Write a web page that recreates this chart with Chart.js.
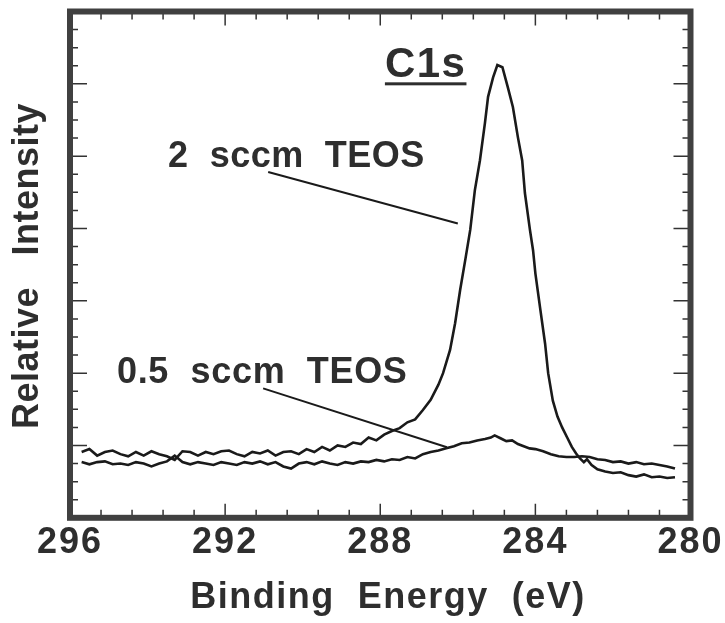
<!DOCTYPE html>
<html>
<head>
<meta charset="utf-8">
<title>C1s XPS</title>
<script src="https://cdn.jsdelivr.net/npm/chart.js@4.4.1/dist/chart.umd.min.js"></script>
<style>
  html, body { margin: 0; padding: 0; background: #fff; }
  #wrap { width: 725px; height: 623px; position: relative; }
</style>
</head>
<body>
<div id="wrap"><canvas id="xps"></canvas></div>
<script>
// C1s spectra, binding energy (eV) vs relative intensity (arb. units)
const energy2 = [295.7, 295.5, 295.3, 295.1, 294.9, 294.7, 294.5, 294.3, 294.1, 293.9,
  293.7, 293.5, 293.3, 293.1, 292.9, 292.7, 292.5, 292.3, 292.1, 291.9,
  291.7, 291.5, 291.3, 291.1, 290.9, 290.7, 290.5, 290.3, 290.1, 289.9,
  289.7, 289.5, 289.3, 289.1, 288.9, 288.7, 288.5, 288.3, 288.1, 287.9,
  287.7, 287.5, 287.3, 287.1, 286.9, 286.7, 286.5, 286.38, 286.2, 286.07,
  285.94, 285.8, 285.68, 285.56, 285.43, 285.3, 285.22, 285.09, 284.98, 284.85,
  284.71, 284.58, 284.45, 284.34, 284.27, 284.14, 284.06, 284.0, 283.88, 283.75,
  283.67, 283.55, 283.43, 283.31, 283.18, 283.06, 282.95, 282.85, 282.75, 282.67,
  282.55, 282.4, 282.2, 282.0, 281.8, 281.6, 281.4, 281.2, 281.0, 280.8,
  280.6, 280.4];
const intensity2 = [0.91, 0.95, 0.86, 0.91, 0.93, 0.88, 0.85, 0.91, 0.86, 0.92,
  0.88, 0.85, 0.80, 0.92, 0.91, 0.86, 0.91, 0.88, 0.92, 0.93,
  0.88, 0.85, 0.91, 0.89, 0.93, 0.86, 0.91, 0.92, 0.88, 0.95,
  0.91, 0.98, 0.93, 1.00, 0.98, 1.04, 1.02, 1.11, 1.07, 1.15,
  1.20, 1.24, 1.32, 1.36, 1.49, 1.63, 1.84, 2.00, 2.32, 2.69,
  3.15, 3.59, 3.98, 4.53, 4.94, 5.46, 5.82, 6.09, 6.26, 6.23,
  5.95, 5.68, 5.26, 4.94, 4.49, 3.98, 3.70, 3.38, 2.91, 2.41,
  2.00, 1.62, 1.40, 1.25, 1.11, 0.98, 0.89, 0.82, 0.77, 0.81,
  0.73, 0.67, 0.64, 0.62, 0.63, 0.59, 0.57, 0.60, 0.56, 0.57,
  0.55, 0.56];

const energy05 = [295.7, 295.5, 295.3, 295.1, 294.9, 294.7, 294.5, 294.3, 294.1, 293.9,
  293.7, 293.5, 293.3, 293.1, 292.9, 292.7, 292.5, 292.3, 292.1, 291.9,
  291.7, 291.5, 291.3, 291.1, 290.9, 290.7, 290.5, 290.3, 290.1, 289.9,
  289.7, 289.5, 289.3, 289.1, 288.9, 288.7, 288.5, 288.3, 288.1, 287.9,
  287.7, 287.5, 287.3, 287.1, 286.9, 286.7, 286.5, 286.3, 286.1, 285.9,
  285.7, 285.5, 285.3, 285.15, 285.05, 284.9, 284.75, 284.6, 284.45, 284.3,
  284.15, 284.0, 283.8, 283.6, 283.4, 283.2, 283.0, 282.8, 282.6, 282.4,
  282.2, 282.0, 281.8, 281.6, 281.4, 281.2, 281.0, 280.8, 280.6, 280.4];
const intensity05 = [0.77, 0.74, 0.77, 0.78, 0.74, 0.75, 0.73, 0.77, 0.75, 0.71,
  0.75, 0.78, 0.86, 0.77, 0.74, 0.77, 0.75, 0.73, 0.77, 0.75,
  0.73, 0.77, 0.75, 0.78, 0.74, 0.77, 0.71, 0.68, 0.75, 0.77,
  0.74, 0.78, 0.75, 0.73, 0.77, 0.75, 0.78, 0.77, 0.80, 0.78,
  0.81, 0.80, 0.84, 0.82, 0.88, 0.91, 0.93, 0.96, 0.99, 1.03,
  1.04, 1.07, 1.09, 1.11, 1.14, 1.10, 1.06, 1.07, 1.02, 0.99,
  0.96, 0.95, 0.92, 0.88, 0.85, 0.84, 0.84, 0.85, 0.84, 0.81,
  0.80, 0.77, 0.78, 0.75, 0.77, 0.74, 0.75, 0.73, 0.71, 0.68];

// leader lines from the labels to their curves
const leader2Energy = [290.89, 286.0];
const leader2Intensity = [4.78, 4.07];
const leader05Energy = [291.02, 286.28];
const leader05Intensity = [1.79, 0.975];

// axis ranges and ticks
const xMin = 280, xMax = 296;
const xTickValues = [296, 292, 288, 284, 280];
const xMinorStep = 0.8;
const yMin = 0, yMax = 7;
const yMinorStep = 0.25;

const ink = "#1a1a1a";
const textInk = "#2e2e2e";
const fontFam = "'Liberation Sans', Arial, Helvetica, sans-serif";

function pts(xs, ys) {
  return xs.map((x, i) => ({ x: x, y: ys[i] }));
}

function textAt(ctx, str, x, y, size, spacing) {
  ctx.font = "bold " + size + "px " + fontFam;
  ctx.letterSpacing = spacing + "px";
  ctx.fillText(str, x, y);
}

const framePlugin = {
  id: "frame",
  beforeDraw(chart) {
    // wider tracking for the tick numbers
    chart.ctx.letterSpacing = "2px";
  },
  afterDraw(chart) {
    const ctx = chart.ctx;
    const a = chart.chartArea;
    const sx = chart.scales.x, sy = chart.scales.y;
    ctx.save();
    ctx.letterSpacing = "0px";

    // inward ticks on all four sides
    ctx.strokeStyle = "#333";
    ctx.lineWidth = 1.5;
    ctx.beginPath();
    const nx = Math.round((xMax - xMin) / xMinorStep);
    for (let k = 0; k <= nx; k++) {
      const px = sx.getPixelForValue(xMax - k * xMinorStep);
      const len = k % 5 === 0 ? 14 : 8;
      ctx.moveTo(px, a.bottom); ctx.lineTo(px, a.bottom - len);
      ctx.moveTo(px, a.top); ctx.lineTo(px, a.top + len);
    }
    const ny = Math.round((yMax - yMin) / yMinorStep);
    for (let k = 0; k <= ny; k++) {
      const py = sy.getPixelForValue(yMin + k * yMinorStep);
      const len = k % 4 === 0 ? 17 : 8;
      ctx.moveTo(a.left, py); ctx.lineTo(a.left + len, py);
      ctx.moveTo(a.right, py); ctx.lineTo(a.right - len, py);
    }
    ctx.stroke();

    // heavy box
    ctx.strokeStyle = "#404040";
    ctx.lineWidth = 6;
    ctx.strokeRect(a.left, a.top, a.right - a.left, a.bottom - a.top);

    // labels
    ctx.fillStyle = textInk;
    ctx.textAlign = "left";
    ctx.textBaseline = "alphabetic";
    const cx = sx.getPixelForValue(287.88), cy = sy.getPixelForValue(6.09);
    textAt(ctx, "C1s", cx, cy, 42, 1.5);
    const cw = ctx.measureText("C1s").width;
    ctx.fillRect(cx, cy + 5, cw, 3);

    textAt(ctx, "2  sccm  TEOS", sx.getPixelForValue(293.47), sy.getPixelForValue(4.85), 36, 0.5);
    textAt(ctx, "0.5  sccm  TEOS", sx.getPixelForValue(294.79), sy.getPixelForValue(1.87), 36, 0.7);

    ctx.textAlign = "center";
    textAt(ctx, "Binding  Energy  (eV)", 388, 608, 36, 1.5);

    ctx.save();
    ctx.translate(38, 266);
    ctx.rotate(-Math.PI / 2);
    textAt(ctx, "Relative   Intensity", 0, 0, 36, 0.5);
    ctx.restore();

    ctx.restore();
    ctx.letterSpacing = "0px";
  }
};

const lineStyle = {
  borderColor: ink,
  borderWidth: 2.6,
  pointRadius: 0,
  tension: 0,
  fill: false
};

new Chart(document.getElementById("xps"), {
  type: "line",
  data: {
    datasets: [
      Object.assign({ label: "2 sccm TEOS", data: pts(energy2, intensity2) }, lineStyle),
      Object.assign({ label: "0.5 sccm TEOS", data: pts(energy05, intensity05) }, lineStyle),
      Object.assign({ label: "leader 2", data: pts(leader2Energy, leader2Intensity) }, lineStyle, { borderWidth: 2 }),
      Object.assign({ label: "leader 0.5", data: pts(leader05Energy, leader05Intensity) }, lineStyle, { borderWidth: 2 })
    ]
  },
  options: {
    responsive: true,
    maintainAspectRatio: false,
    animation: false,
    devicePixelRatio: 1,
    layout: { padding: { left: 70, right: 34.5, top: 11.5, bottom: 54 } },
    plugins: {
      legend: { display: false },
      tooltip: { enabled: false }
    },
    scales: {
      x: {
        type: "linear",
        reverse: true,
        min: xMin,
        max: xMax,
        afterBuildTicks: (scale) => {
          scale.ticks = xTickValues.map(v => ({ value: v }));
        },
        grid: { display: false, drawTicks: false },
        border: { display: false },
        ticks: {
          padding: 4,
          maxRotation: 0,
          autoSkip: false,
          color: textInk,
          font: { family: fontFam, size: 36, weight: "bold" },
          callback: (v) => String(v)
        }
      },
      y: {
        type: "linear",
        display: false,
        min: yMin,
        max: yMax
      }
    }
  },
  plugins: [framePlugin]
});
</script>
</body>
</html>
